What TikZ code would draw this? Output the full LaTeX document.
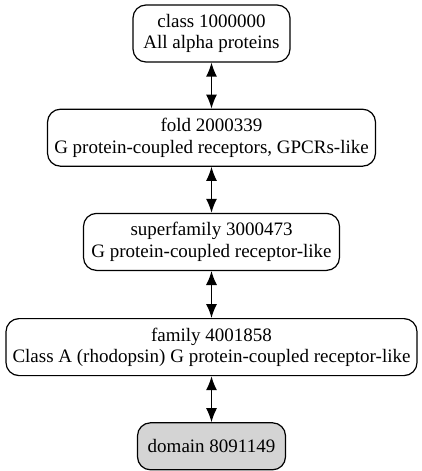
\documentclass[tikz,border=0pt]{standalone}
\usepackage{fontspec}
\setmainfont{Liberation Serif}
\usetikzlibrary{arrows.meta,positioning}
\tikzset{main node/.style={rectangle,rounded corners=13pt,draw,line width=1.2pt,align=center,
           minimum height=57pt,inner sep=0pt,font=\fontsize{19}{21.5}\selectfont},
         leaf node/.style={main node,fill=black!17,minimum height=47pt},
         link/.style={{Latex[length=14pt,width=11pt]}-{Latex[length=14pt,width=11pt]},line width=1.3pt},
}
\begin{document}
\begin{tikzpicture}[x=1pt,y=-1pt,node distance=46pt]
\useasboundingbox (0,0) rectangle (421,471);
\node[main node,minimum width=157pt] (class) at (211.5,33.5) {class 1000000\\All alpha proteins};
\node[main node,minimum width=328pt,below=of class] (fold) {fold 2000339\\G protein-coupled receptors, GPCRs-like};
\node[main node,minimum width=256pt,below=of fold] (superfamily) {superfamily 3000473\\G protein-coupled receptor-like};
\node[main node,minimum width=411pt,below=47pt of superfamily] (family) {family 4001858\\Class A (rhodopsin) G protein-coupled receptor-like};
\node[leaf node,minimum width=148pt,below=of family] (domain) {domain 8091149};

\draw[link] (class) -- (fold);
\draw[link] (fold) -- (superfamily);
\draw[link] (superfamily) -- (family);
\draw[link] (family) -- (domain);
\end{tikzpicture}
\end{document}
